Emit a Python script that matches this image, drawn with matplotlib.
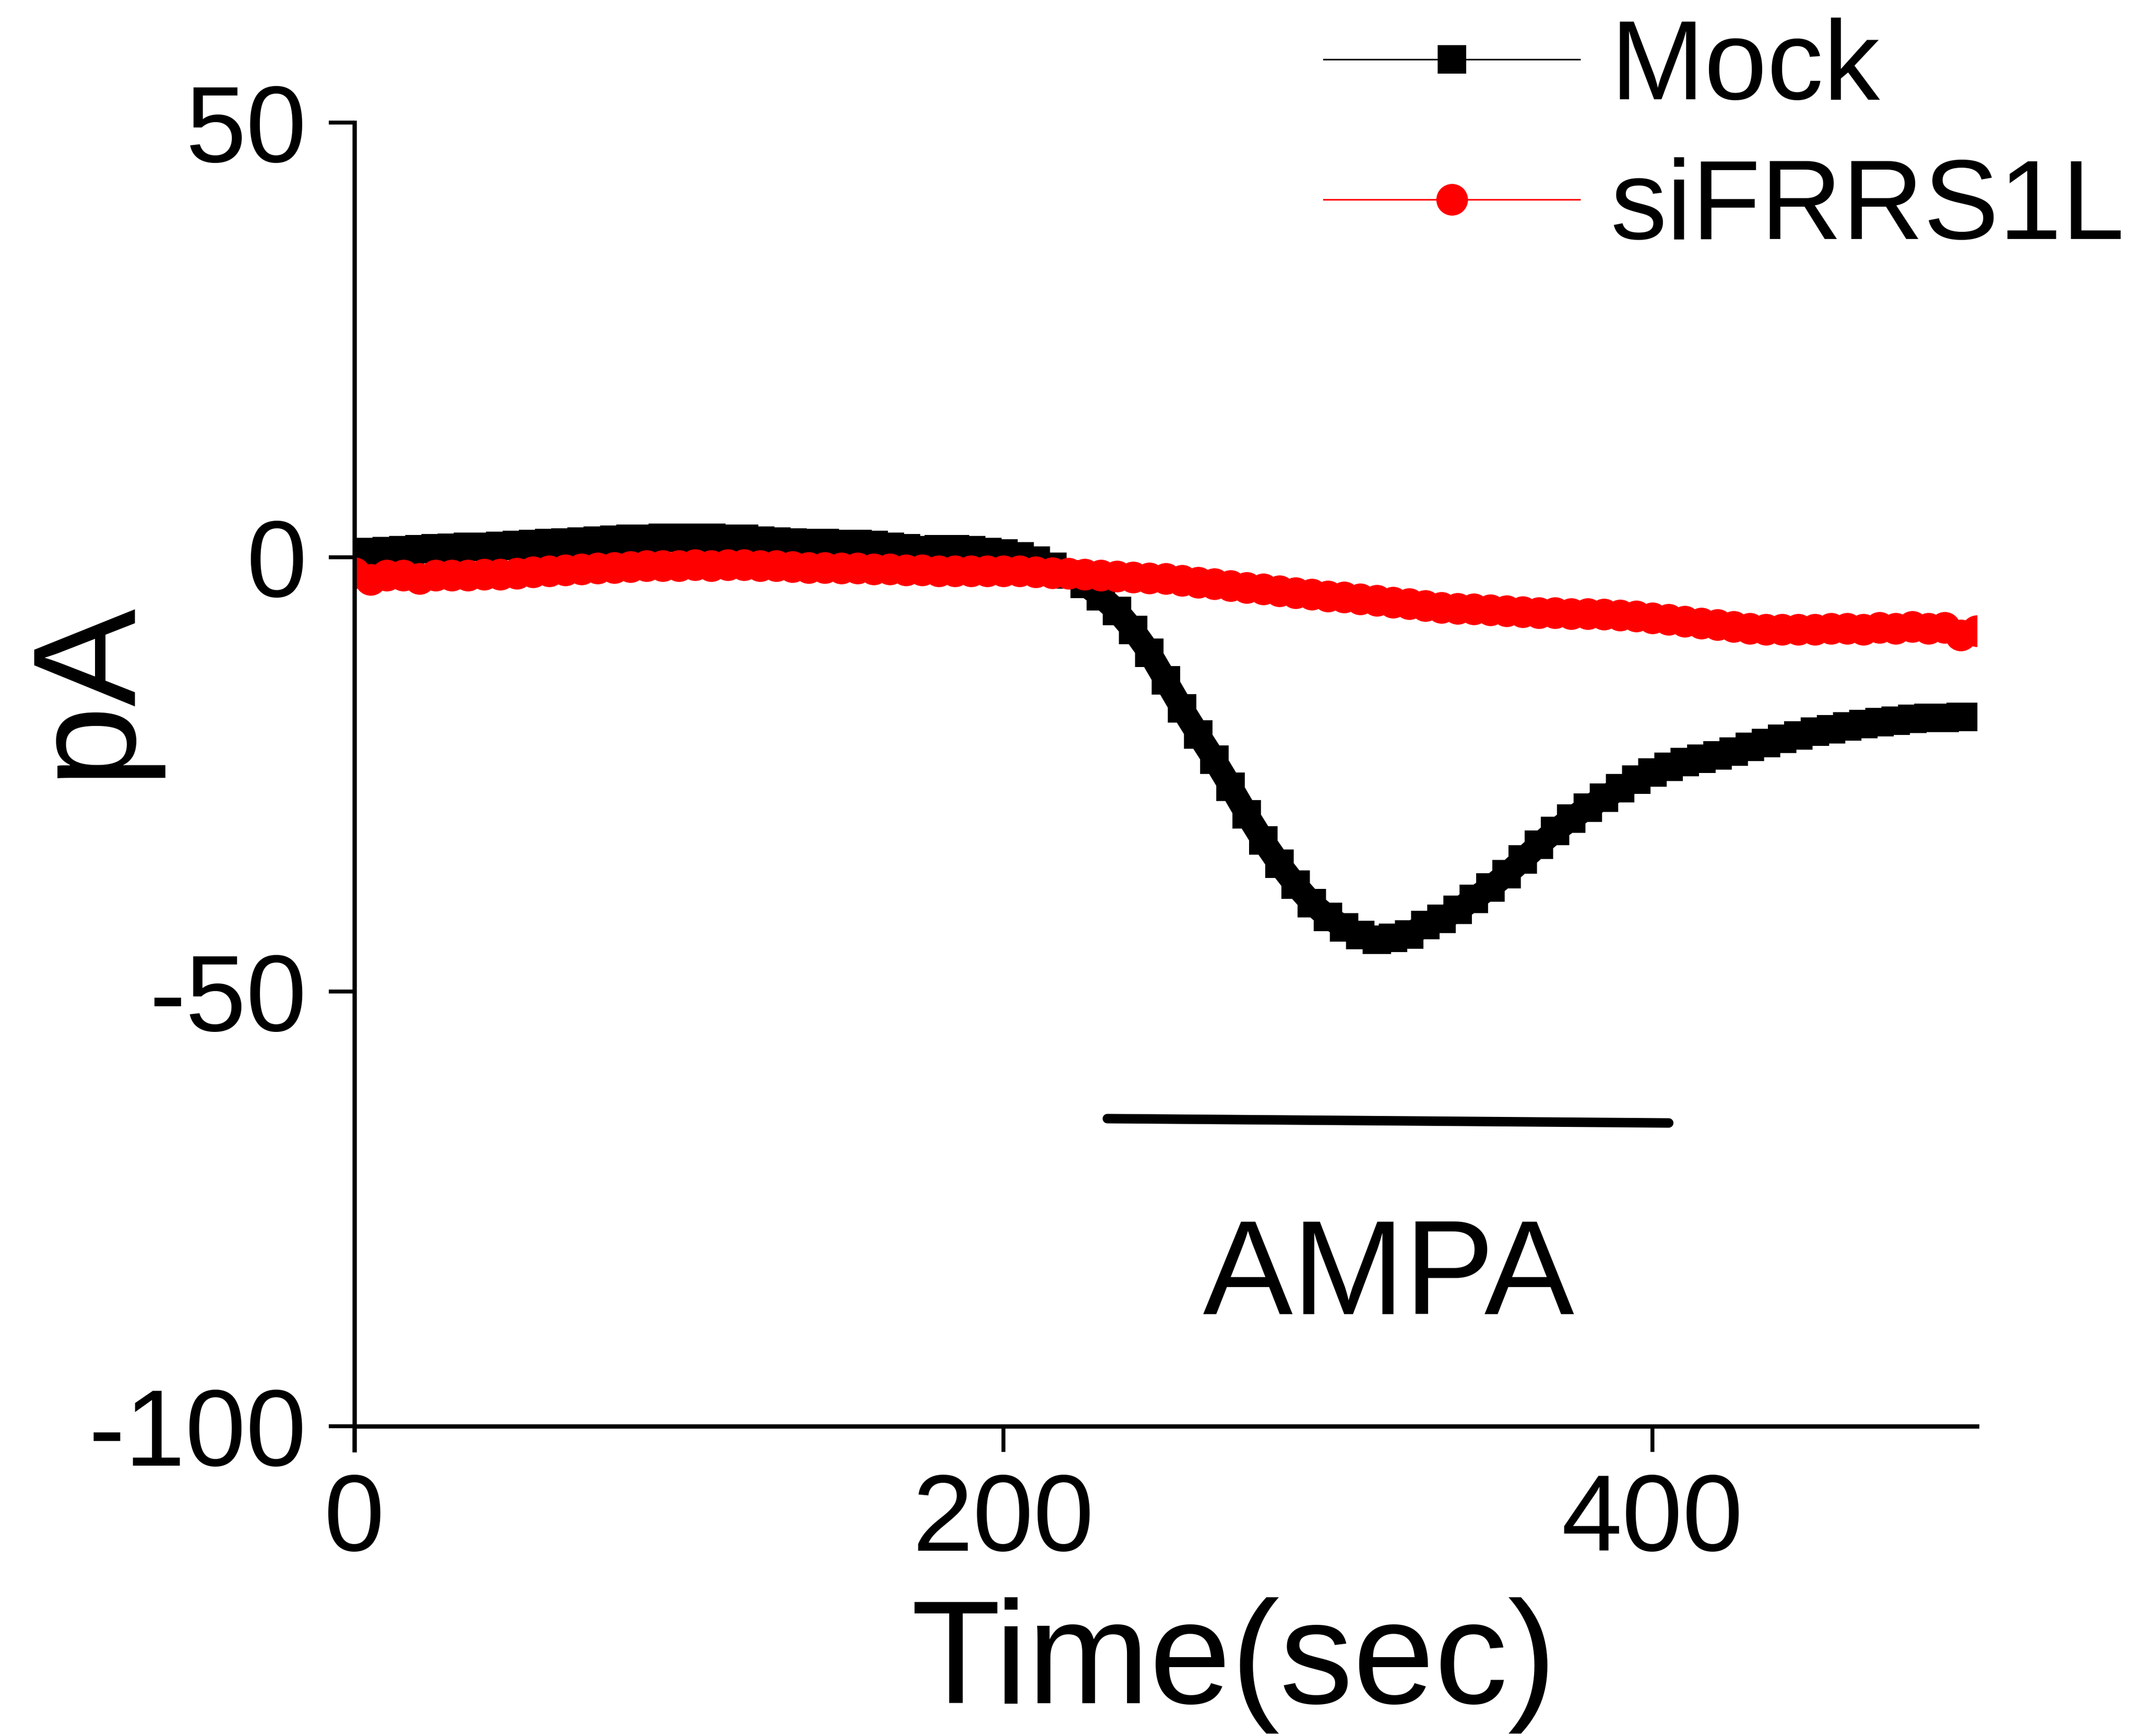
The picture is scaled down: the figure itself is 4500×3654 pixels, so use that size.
import numpy as np
import matplotlib
matplotlib.use("Agg")
import matplotlib.pyplot as plt

plt.rcParams['font.family'] = ['Liberation Sans', 'DejaVu Sans']
plt.rcParams['axes.unicode_minus'] = False

# time axis (sec), one reading every 5 s
time_s = np.arange(0, 501, 5)

mock_pA = [
    0.5, 0.6, 0.7, 0.8, 0.9, 1.0, 1.1, 1.2, 1.2, 1.3,
    1.4, 1.5, 1.6, 1.7, 1.8, 1.9, 2.0, 2.1, 2.1, 2.2,
    2.2, 2.2, 2.2, 2.1, 2.1, 1.9, 1.8, 1.7, 1.6, 1.6,
    1.5, 1.5, 1.4, 1.2, 1.0, 0.8, 0.9, 0.9, 0.8, 0.6,
    0.4, 0.1, -0.4, -1.1, -2.0, -3.1, -4.5, -6.2, -8.4, -11.0,
    -14.2, -17.4, -20.4, -23.3, -26.4, -29.6, -32.6, -35.3, -37.7, -39.8,
    -41.4, -42.6, -43.5, -44.0, -43.8, -43.4, -42.3, -41.6, -40.6, -39.3,
    -38.0, -36.5, -34.8, -33.1, -31.5, -30.1, -28.8, -27.7, -26.6, -25.6,
    -24.8, -24.1, -23.6, -23.2, -22.8, -22.4, -21.8, -21.4, -20.9, -20.5,
    -20.1, -19.8, -19.5, -19.2, -19.0, -18.8, -18.6, -18.5, -18.5, -18.4,
    -18.4,
]

si_pA = [
    -1.8, -2.6, -2.1, -2.1, -2.5, -2.1, -2.1, -2.1, -2.0, -2.0,
    -1.9, -1.7, -1.6, -1.5, -1.4, -1.3, -1.2, -1.1, -1.0, -1.0,
    -1.0, -0.9, -1.0, -0.9, -0.9, -1.0, -1.0, -1.1, -1.2, -1.2,
    -1.3, -1.3, -1.4, -1.4, -1.5, -1.5, -1.6, -1.6, -1.6, -1.6,
    -1.6, -1.6, -1.7, -1.8, -1.9, -2.0, -2.1, -2.2, -2.3, -2.4,
    -2.5, -2.7, -2.9, -3.1, -3.3, -3.5, -3.7, -3.9, -4.1, -4.3,
    -4.5, -4.6, -4.8, -5.0, -5.2, -5.4, -5.6, -5.8, -5.9, -6.0,
    -6.1, -6.2, -6.3, -6.4, -6.4, -6.5, -6.5, -6.6, -6.7, -6.8,
    -7.0, -7.2, -7.4, -7.6, -7.8, -8.0, -8.2, -8.3, -8.3, -8.3,
    -8.3, -8.2, -8.2, -8.3, -8.1, -8.2, -8.0, -8.2, -8.1, -9.0,
    -8.5,
]

# AMPA application bar (sec, pA)
ampa_t = [232, 405]
ampa_y = [-64.6, -65.1]

x_ticks = [0, 200, 400]
y_ticks = [-100, -50, 0, 50]

fig = plt.figure(figsize=(15, 12.18), dpi=300)
ax = fig.add_axes([0.1658, 0.1784, 0.7589, 0.751])

# thick underlay so the dense markers read as one band
ax.plot(time_s, mock_pA, color='black', lw=12, solid_capstyle='butt')
ax.plot(time_s, mock_pA, color='black', lw=0.8, marker='s', ms=14.4,
        mew=0, label='Mock')
ax.plot(time_s, si_pA, color='red', lw=13, solid_capstyle='butt')
ax.plot(time_s, si_pA, color='red', lw=0.8, marker='o', ms=16,
        mew=0, label='siFRRS1L')

ax.plot(ampa_t, ampa_y, color='black', lw=4.8, solid_capstyle='round')
ax.text(318.7, -87.1, 'AMPA', fontsize=68, ha='center', va='baseline')

ax.set_xlim(0, 500)
ax.set_ylim(-100, 50)
ax.set_xticks(x_ticks)
ax.set_yticks(y_ticks)
ax.spines['top'].set_visible(False)
ax.spines['right'].set_visible(False)
ax.spines['left'].set_linewidth(2.2)
ax.spines['bottom'].set_linewidth(2.2)
ax.spines['left'].set_bounds(-102.7, 50)
ax.tick_params(axis='both', direction='out', length=13, width=2,
               labelsize=55)
ax.tick_params(axis='x', pad=10)
ax.tick_params(axis='y', pad=11)

fig.text(0.577, 0.019, 'Time(sec)', fontsize=74, ha='center', va='baseline')
fig.text(0.0413, 0.6034, 'pA', fontsize=74, rotation=90,
         ha='center', va='center')

fig.legend(loc='upper left', bbox_to_anchor=(0.6191, 0.990), frameon=False,
           fontsize=57, borderpad=0, borderaxespad=0, handlelength=2.27,
           handletextpad=0.27, labelspacing=0.31)

fig.savefig('out.png', dpi=300, facecolor='white')
